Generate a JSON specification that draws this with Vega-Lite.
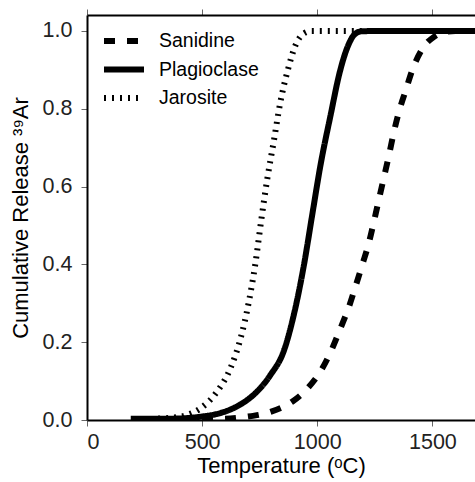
{
  "$schema": "https://vega.github.io/schema/vega-lite/v6.json",
  "width": 388,
  "height": 405,
  "autosize": {"type": "none"},
  "padding": {"left": 87, "top": 15, "right": 0, "bottom": 62},
  "background": "white",
  "config": {
    "view": {"stroke": null},
    "font": "Liberation Sans",
    "axis": {"grid": false, "domainColor": "black", "domainWidth": 2, "tickColor": "#666", "tickSize": 6, "tickWidth": 1, "labelColor": "#222", "labelFontSize": 21.5, "titleFontSize": 22, "titleFontWeight": "normal", "titleColor": "black", "labelFont": "Liberation Sans", "titleFont": "Liberation Sans"}
  },
  "data": {"values": [
    {"T": 200, "y": 0.0, "s": "Sanidine"},
    {"T": 400, "y": 0.001, "s": "Sanidine"},
    {"T": 600, "y": 0.003, "s": "Sanidine"},
    {"T": 688, "y": 0.008, "s": "Sanidine"},
    {"T": 797, "y": 0.021, "s": "Sanidine"},
    {"T": 891, "y": 0.047, "s": "Sanidine"},
    {"T": 960, "y": 0.083, "s": "Sanidine"},
    {"T": 1022, "y": 0.133, "s": "Sanidine"},
    {"T": 1065, "y": 0.184, "s": "Sanidine"},
    {"T": 1101, "y": 0.236, "s": "Sanidine"},
    {"T": 1137, "y": 0.29, "s": "Sanidine"},
    {"T": 1167, "y": 0.345, "s": "Sanidine"},
    {"T": 1196, "y": 0.4, "s": "Sanidine"},
    {"T": 1224, "y": 0.455, "s": "Sanidine"},
    {"T": 1246, "y": 0.51, "s": "Sanidine"},
    {"T": 1268, "y": 0.568, "s": "Sanidine"},
    {"T": 1290, "y": 0.625, "s": "Sanidine"},
    {"T": 1311, "y": 0.68, "s": "Sanidine"},
    {"T": 1333, "y": 0.741, "s": "Sanidine"},
    {"T": 1355, "y": 0.793, "s": "Sanidine"},
    {"T": 1384, "y": 0.847, "s": "Sanidine"},
    {"T": 1413, "y": 0.9, "s": "Sanidine"},
    {"T": 1457, "y": 0.955, "s": "Sanidine"},
    {"T": 1507, "y": 0.985, "s": "Sanidine"},
    {"T": 1550, "y": 0.997, "s": "Sanidine"},
    {"T": 1600, "y": 1.0, "s": "Sanidine"},
    {"T": 1700, "y": 1.0, "s": "Sanidine"},
    {"T": 190, "y": 0.003, "s": "Plagioclase"},
    {"T": 300, "y": 0.003, "s": "Plagioclase"},
    {"T": 400, "y": 0.004, "s": "Plagioclase"},
    {"T": 500, "y": 0.009, "s": "Plagioclase"},
    {"T": 560, "y": 0.015, "s": "Plagioclase"},
    {"T": 623, "y": 0.027, "s": "Plagioclase"},
    {"T": 680, "y": 0.045, "s": "Plagioclase"},
    {"T": 724, "y": 0.065, "s": "Plagioclase"},
    {"T": 797, "y": 0.116, "s": "Plagioclase"},
    {"T": 855, "y": 0.178, "s": "Plagioclase"},
    {"T": 898, "y": 0.27, "s": "Plagioclase"},
    {"T": 942, "y": 0.398, "s": "Plagioclase"},
    {"T": 978, "y": 0.527, "s": "Plagioclase"},
    {"T": 1014, "y": 0.655, "s": "Plagioclase"},
    {"T": 1058, "y": 0.784, "s": "Plagioclase"},
    {"T": 1098, "y": 0.895, "s": "Plagioclase"},
    {"T": 1135, "y": 0.964, "s": "Plagioclase"},
    {"T": 1160, "y": 0.99, "s": "Plagioclase"},
    {"T": 1190, "y": 0.999, "s": "Plagioclase"},
    {"T": 1250, "y": 1.0, "s": "Plagioclase"},
    {"T": 1700, "y": 1.0, "s": "Plagioclase"},
    {"T": 240, "y": 0.002, "s": "Jarosite"},
    {"T": 320, "y": 0.004, "s": "Jarosite"},
    {"T": 400, "y": 0.008, "s": "Jarosite"},
    {"T": 435, "y": 0.013, "s": "Jarosite"},
    {"T": 493, "y": 0.03, "s": "Jarosite"},
    {"T": 565, "y": 0.073, "s": "Jarosite"},
    {"T": 623, "y": 0.133, "s": "Jarosite"},
    {"T": 667, "y": 0.21, "s": "Jarosite"},
    {"T": 703, "y": 0.304, "s": "Jarosite"},
    {"T": 732, "y": 0.405, "s": "Jarosite"},
    {"T": 757, "y": 0.515, "s": "Jarosite"},
    {"T": 783, "y": 0.62, "s": "Jarosite"},
    {"T": 811, "y": 0.716, "s": "Jarosite"},
    {"T": 840, "y": 0.818, "s": "Jarosite"},
    {"T": 870, "y": 0.895, "s": "Jarosite"},
    {"T": 906, "y": 0.964, "s": "Jarosite"},
    {"T": 940, "y": 0.993, "s": "Jarosite"},
    {"T": 975, "y": 1.0, "s": "Jarosite"},
    {"T": 1700, "y": 1.0, "s": "Jarosite"}
  ]},
  "layer": [
    {
      "mark": {"type": "line", "color": "black", "strokeWidth": 6, "clip": true, "interpolate": "monotone"},
      "encoding": {
        "x": {"field": "T", "type": "quantitative", "scale": {"domain": [0, 1685], "nice": false, "zero": false},
              "axis": {"title": "Temperature (ᵒC)", "values": [0, 500, 1000, 1500], "format": "d", "labelPadding": 5, "titlePadding": 3}},
        "y": {"field": "y", "type": "quantitative", "scale": {"domain": [0, 1.0411], "nice": false},
              "axis": {"title": "Cumulative Release ³⁹Ar", "values": [0, 0.2, 0.4, 0.6, 0.8, 1.0], "format": ".1f", "labelPadding": 9, "titlePadding": 10}},
        "strokeDash": {"field": "s", "type": "nominal",
          "scale": {"domain": ["Sanidine", "Plagioclase", "Jarosite"], "range": [[11, 12], [1, 0], [2, 6]]},
          "legend": {"title": null, "orient": "none", "legendX": 24, "legendY": 13, "symbolType": "M-2,0L2,0", "symbolSize": 400, "symbolStrokeWidth": 6, "symbolStrokeColor": "black", "labelFontSize": 19.5, "labelColor": "black", "labelOffset": 22, "rowPadding": 3.5}
        }
      }
    },
    {
      "mark": {"type": "rule", "opacity": 0},
      "encoding": {
        "x": {"field": "T", "type": "quantitative", "aggregate": "min",
              "axis": {"orient": "top", "title": null, "labels": false, "values": [0, 500, 1000, 1500]}}
      }
    }
  ],
  "resolve": {"axis": {"x": "independent"}}
}
